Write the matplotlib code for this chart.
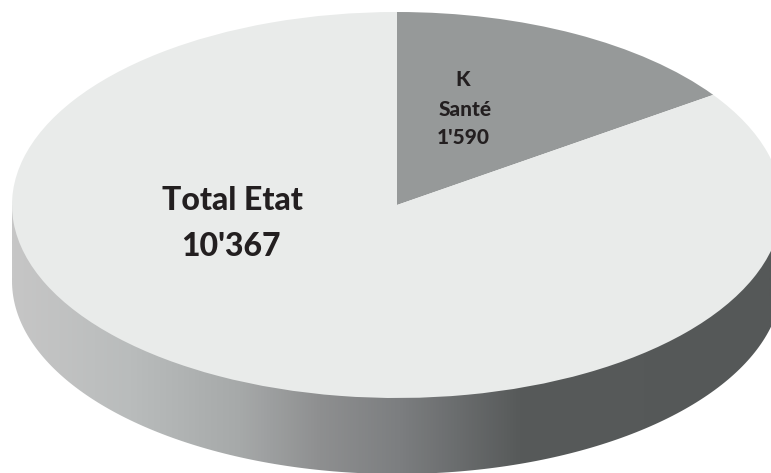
import numpy as np
from matplotlib import pyplot as plt
from matplotlib.colors import LinearSegmentedColormap
from matplotlib.patches import Polygon

# values in the chart, K Sante is part of the total
total_etat = 10367
k_sante = 1590
shares = [k_sante, total_etat - k_sante]
colours = ["#969999", "#e9ebea"]

# shading of the rim, (x in pixels, colour)
rim_x = [12, 130, 240, 320, 400, 520, 771]
rim_colours = ["#c6c6c6", "#b9bcbc", "#a6a9a9", "#8e8f90", "#7c7e80", "#575a5a", "#555858"]

W, H = 771, 473
cx, cy = 397, 205
rx, ry = 385, 193
depth = 76

fig = plt.figure(figsize=(W / 100, H / 100), dpi=100, facecolor="white")

# rim underneath the pie
ax_rim = fig.add_axes([0, 0, 1, 1])
ax_rim.set_xlim(0, W)
ax_rim.set_ylim(H, 0)
ax_rim.axis("off")

stops = [(x - rim_x[0]) / (rim_x[-1] - rim_x[0]) for x in rim_x]
cmap = LinearSegmentedColormap.from_list("rim", list(zip(stops, rim_colours)))
img = ax_rim.imshow(np.linspace(0, 1, 512).reshape(1, -1), cmap=cmap, aspect="auto",
                    extent=(rim_x[0], rim_x[-1], H, 0))
ax_rim.set_xlim(0, W)
ax_rim.set_ylim(H, 0)

t = np.linspace(0, np.pi, 200)
outline = np.column_stack((cx + rx * np.cos(t), cy + depth + ry * np.sin(t)))
outline = np.vstack(([[cx + rx, cy]], outline, [[cx - rx, cy]]))
clip = Polygon(outline, transform=ax_rim.transData, facecolor="none", edgecolor="none")
ax_rim.add_patch(clip)
img.set_clip_path(clip)

# top face, the pie squashed into an ellipse
ax_pie = fig.add_axes([(cx - rx) / W, 1 - (cy + ry) / H, 2 * rx / W, 2 * ry / H])
ax_pie.pie(shares, colors=colours, startangle=90, counterclock=False, radius=1,
           wedgeprops={"linewidth": 0})
ax_pie.set_aspect("auto")
ax_pie.set_xlim(-1, 1)
ax_pie.set_ylim(-1, 1)
for w in ax_pie.patches:
    w.set_clip_on(False)


def fmt(v):
    return f"{v:,}".replace(",", "'")


def label(x, y, s, size):
    fig.text(x / W, 1 - y / H, s, ha="center", va="center", fontsize=size,
             fontweight=900, family="Lato", color="#231f20")


label(232, 201, "Total Etat", 23)
label(231, 246, fmt(total_etat), 23)
label(463, 80, "K", 15)
label(465, 109, "Santé", 15)
label(463, 137, fmt(k_sante), 15)

plt.savefig("out.png", dpi=100)
